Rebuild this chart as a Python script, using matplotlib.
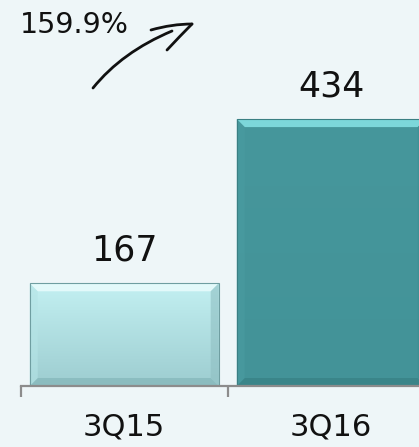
import matplotlib
matplotlib.use("Agg")
import matplotlib.pyplot as plt
import numpy as np
from matplotlib.path import Path
from matplotlib.patches import PathPatch, Polygon
from matplotlib.colors import LinearSegmentedColormap

categories = ["3Q15", "3Q16"]
values = [167, 434]
growth_label = "159.9%"

BG = "#eef6f8"
W, H = 419, 447
fig = plt.figure(figsize=(W / 100, H / 100), dpi=100, facecolor=BG)
ax = fig.add_axes([20.7 / W, 61 / H, 414 / W, 307.5 / H])
ax.set_facecolor(BG)
ax.set_xlim(-0.5, 1.5)
ax.set_ylim(0, 500)

x = np.arange(len(categories))
bars = ax.bar(x, values, width=0.913, color="none", zorder=2)

styles = [
    dict(top="#c3f0f2", bot="#9dcdd0", light="#eafcfc", dark="#7fb1b4", side_l="#b5e4e6", side_r="#8fbfc2", edge="#6f9ea1"),
    dict(top="#46979c", bot="#439398", light="#86e3e6", dark="#357c80", side_l="#4a9ca1", side_r="#3f8c91", edge="#3a7f83"),
]

bx = 8 / 207   # bevel in data units (x)
by = 8 / 0.615  # bevel in data units (y)
for rect, st in zip(bars, styles):
    x0, y0 = rect.get_x(), rect.get_y()
    w, h = rect.get_width(), rect.get_height()
    cmap = LinearSegmentedColormap.from_list("g", [st["bot"], st["top"]])
    grad = np.linspace(0, 1, 256).reshape(-1, 1)
    ax.imshow(grad, cmap=cmap, origin="lower", aspect="auto",
              extent=[x0, x0 + w, y0, y0 + h], zorder=2)
    # bevels
    ax.add_patch(Polygon([(x0, y0 + h), (x0 + w, y0 + h), (x0 + w - bx, y0 + h - by), (x0 + bx, y0 + h - by)],
                         closed=True, facecolor=st["light"], edgecolor="none", alpha=0.85, zorder=3))
    ax.add_patch(Polygon([(x0, y0), (x0 + w, y0), (x0 + w - bx, y0 + by), (x0 + bx, y0 + by)],
                         closed=True, facecolor=st["dark"], edgecolor="none", alpha=0.6, zorder=3))
    ax.add_patch(Polygon([(x0, y0), (x0, y0 + h), (x0 + bx, y0 + h - by), (x0 + bx, y0 + by)],
                         closed=True, facecolor=st["side_l"], edgecolor="none", alpha=0.6, zorder=3))
    ax.add_patch(Polygon([(x0 + w, y0), (x0 + w, y0 + h), (x0 + w - bx, y0 + h - by), (x0 + w - bx, y0 + by)],
                         closed=True, facecolor=st["side_r"], edgecolor="none", alpha=0.6, zorder=3))
    ax.add_patch(plt.Rectangle((x0, y0), w, h, facecolor="none", edgecolor=st["edge"], lw=0.8, zorder=4))
    ax.annotate(f"{rect.get_height():g}", (x0 + w / 2, y0 + h), xytext=(0, 16.5),
                textcoords="offset points", ha="center", va="baseline",
                fontsize=25, color="#111111", zorder=5)

for s in ["top", "right", "left"]:
    ax.spines[s].set_visible(False)
ax.spines["bottom"].set_color("#8c8c8c")
ax.spines["bottom"].set_linewidth(1.6)
ax.spines["bottom"].set_zorder(6)
ax.set_yticks([])
ax.set_xticks(x)
ax.set_xticklabels(categories, fontsize=22, color="#111111")
ax.tick_params(axis="x", which="major", length=0, pad=19)
ax.set_xticks([-0.5, 0.5, 1.5], minor=True)
ax.tick_params(axis="x", which="minor", length=8, width=1.6, color="#8c8c8c", direction="out")

# growth annotation
fig.text(20 / W, 1 - 25 / H, growth_label, fontsize=20.5, color="#111111", ha="left", va="center")

def fp(px, py):
    return (px / W, 1 - py / H)

shaft = Path([fp(93, 88), fp(122, 52), fp(172, 31)], [Path.MOVETO, Path.CURVE3, Path.CURVE3])
fig.add_artist(PathPatch(shaft, transform=fig.transFigure, facecolor="none", edgecolor="#111111", lw=2.0, capstyle="round"))
barb1 = Path([fp(151, 30), fp(172, 24), fp(192, 24)], [Path.MOVETO, Path.CURVE3, Path.CURVE3])
barb2 = Path([fp(167, 50), fp(180, 36), fp(192, 24)], [Path.MOVETO, Path.CURVE3, Path.CURVE3])
for b in (barb1, barb2):
    fig.add_artist(PathPatch(b, transform=fig.transFigure, facecolor="none", edgecolor="#111111", lw=2.0, capstyle="round"))

fig.savefig("out.png", dpi=100, facecolor=BG)
